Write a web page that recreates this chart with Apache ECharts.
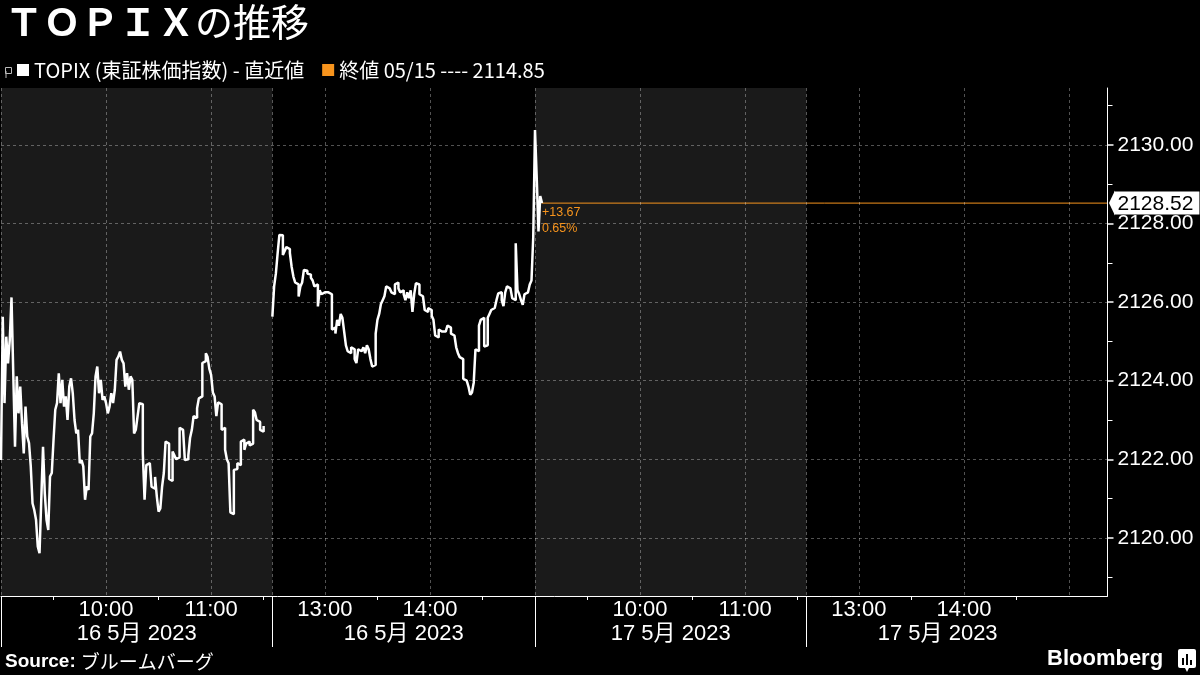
<!DOCTYPE html>
<html><head><meta charset="utf-8">
<script src="https://cdn.jsdelivr.net/npm/echarts@6/dist/echarts.min.js"></script>
<style>html,body{margin:0;padding:0;background:#000}#c{width:1200px;height:675px}</style>
</head><body><div id="c"></div>
<script>
// ---------------- data ----------------
const titleMain = 'ＴＯＰＩＸ';
const titleRest = 'の推移';
const seriesName = 'TOPIX (東証株価指数) - 直近値';
const prevCloseLabel = '終値 05/15';
const prevClose = 2114.85;
const sourceLabel = 'Source:';
const sourceName = 'ブルームバーグ';
const brandName = 'Bloomberg';

const dayLabels = ['16 5月 2023', '17 5月 2023'];
const hourTickTimes = ['10:00', '11:00', '13:00', '14:00'];
const halfHourTimes = ['09:30', '10:30', '11:30', '13:30', '14:30'];
const sessionOpenTimes = ['09:00', '12:30'];
const yMajorTicks = [2120, 2122, 2124, 2126, 2128, 2130];
const yMinorTicks = [2119, 2121, 2123, 2125, 2127, 2129, 2131];

// one value per minute from each session's start
const day1AmStart = '09:00';
const day1AmValues = [
 2121.98,2125.63,2123.43,2125.12,2124.44,2125.04,2126.12,2124.19,2122.32,2124.11,
 2123.17,2123.85,2122.92,2122.15,2123.34,2122.58,2122.41,2121.82,2120.88,2120.71,
 2120.46,2119.78,2119.61,2120.97,2122.32,2121.14,2120.46,2120.20,2121.56,2121.65,
 2122.49,2123.26,2123.43,2124.19,2123.43,2124.02,2123.34,2123.60,2123.00,2123.85,
 2124.06,2123.68,2123.00,2122.66,2122.75,2121.90,2121.98,2121.82,2120.97,2121.31,
 2121.22,2122.58,2122.66,2123.17,2124.11,2124.36,2123.68,2124.02,2123.51,2123.60,
 2123.43,2123.17,2123.34,2123.68,2123.43,2123.77,2124.53,2124.61,2124.74,2124.53,
 2124.44,2123.85,2124.19,2123.77,2124.11,2124.02,2122.66,2122.75,2123.09,2123.43,
 2123.40,2122.15,2120.97,2121.85,2121.90,2121.90,2121.30,2121.25,2121.55,2121.05,
 2120.67,2120.75,2121.30,2121.65,2122.45,2122.40,2121.50,2121.45,2122.20,2122.10,
 2122.00,2122.05,2122.80,2122.75,2122.80,2121.98,2122.00,2122.10,2122.55,2122.75,
 2123.10,2123.05,2123.30,2123.55,2123.60,2124.45,2124.50,2124.70,2124.60,2124.30,
 2124.15,2123.70,2123.60,2123.10,2123.45,2123.40,2122.75,2122.80,2122.24,2122.00,
 2121.90,2120.65,2120.60,2121.73,2121.75,2121.90,2121.85,2122.45,2122.50,2122.24,
 2122.40,2122.45,2122.35,2122.40,2123.26,2123.20,2123.00,2122.95,2122.75,2122.70,
 2122.85];
const day1PmStart = '12:30';
const day1PmValues = [
 2125.63,2126.40,2126.73,2127.24,2127.71,2127.70,2127.20,2127.30,2127.40,2127.35,
 2127.25,2126.90,2126.65,2126.50,2126.45,2126.14,2126.40,2126.50,2126.82,2126.80,
 2126.73,2126.70,2126.62,2126.55,2126.40,2126.45,2125.89,2126.30,2126.20,2126.25,
 2126.30,2126.25,2126.30,2126.20,2125.30,2125.35,2125.20,2125.55,2125.40,2125.70,
 2125.60,2125.25,2124.90,2124.75,2124.70,2124.85,2124.80,2124.55,2124.45,2124.80,
 2124.75,2124.70,2124.85,2124.70,2124.90,2124.80,2124.55,2124.36,2124.40,2125.20,
 2125.55,2125.70,2125.95,2126.05,2126.15,2126.40,2126.35,2126.30,2126.25,2126.20,
 2126.45,2126.50,2126.35,2126.25,2126.30,2126.20,2126.05,2126.25,2126.10,2126.30,
 2125.75,2126.20,2126.48,2126.45,2126.20,2126.15,2126.10,2125.80,2125.75,2125.85,
 2125.80,2125.65,2125.55,2125.15,2125.10,2125.30,2125.25,2125.20,2125.25,2125.30,
 2125.40,2125.35,2125.20,2125.15,2125.20,2124.85,2124.70,2124.60,2124.55,2124.05,
 2124.00,2124.05,2123.85,2123.64,2123.70,2123.95,2124.80,2124.75,2125.40,2125.55,
 2125.60,2124.87,2124.90,2125.60,2125.70,2125.80,2125.85,2125.90,2126.05,2126.22,
 2126.25,2126.05,2125.90,2126.25,2126.40,2126.35,2126.30,2126.10,2126.05,2127.50,
 2126.30,2126.20,2126.05,2125.93,2126.20,2126.25,2126.20,2126.45,2126.55,2127.65,
 2127.65];
const day2AmStart = '09:00';
const day2AmValues = [2130.38, 2129.15, 2127.80, 2128.70, 2128.52];

// ---------------- layout of the compressed trading-time axis ----------------
const AM_SPAN = 155;       // 09:00 - 11:35 display minutes
const DAY_SPAN = 305;      // + 12:30 - 15:00
const X_MAX = 632;
const ORANGE = '#f7941d';
const FONT = "'Liberation Sans', Arial, 'Noto Sans CJK JP', sans-serif";
const CJK = "'Noto Sans CJK JP', sans-serif";

function clockMin(hhmm) { const p = hhmm.split(':').map(Number); return p[0] * 60 + p[1]; }
function toU(day, hhmm) {
  const c = clockMin(hhmm);
  const r = c < 12 * 60 ? c - 540 : AM_SPAN + (c - 750);
  return day * DAY_SPAN + r;
}
function fromU(u) {
  const d = u >= DAY_SPAN ? 1 : 0;
  const r = u - d * DAY_SPAN;
  const c = r < AM_SPAN ? 540 + r : 750 + (r - AM_SPAN);
  const h = Math.floor(c / 60), m = Math.round(c % 60);
  return String(h).padStart(2, '0') + ':' + String(m).padStart(2, '0');
}
function sessionData(day, start, values) {
  const s = toU(day, start);
  return values.map((v, i) => [s + i, v]);
}

const days = [0, 1];
const hourU = [].concat(...days.map(d => hourTickTimes.map(t => toU(d, t))));
const halfU = [].concat(...days.map(d => halfHourTimes.map(t => toU(d, t))));
const sessionU = [].concat(...days.map(d => sessionOpenTimes.map(t => toU(d, t))));
const closeU = toU(1, '12:30') + 150;
const gridU = sessionU.concat(hourU, [closeU]);
const sessionCenters = [].concat(...days.map(d => [
  (toU(d, '09:00') + toU(d, '12:30')) / 2,
  (toU(d, '12:30') + toU(d, '12:30') + 150) / 2]));

const data1 = sessionData(0, day1AmStart, day1AmValues);
const data2 = sessionData(0, day1PmStart, day1PmValues).concat(sessionData(1, day2AmStart, day2AmValues));
const last = data2[data2.length - 1];
const lastU = last[0], lastV = last[1];
const change = lastV - prevClose;
const changeText = (change >= 0 ? '+' : '') + change.toFixed(2);
const pctText = (change / prevClose * 100).toFixed(2) + '%';
const lastLineData = [[lastU, lastV], [X_MAX, lastV]];

const Y_MIN = 2118.52, Y_MAX = 2131.45;

const chart = echarts.init(document.getElementById('c'), null, { renderer: 'canvas' });

const baseY = { type: 'value', min: Y_MIN, max: Y_MAX, position: 'right', offset: 0 };
const baseX = { type: 'value', min: 0, max: X_MAX, position: 'bottom', offset: 0, gridIndex: 0 };

chart.setOption({
  backgroundColor: '#000',
  animation: false,
  title: [
    { text: '{a|' + titleMain + '}{b|' + titleRest + '}', left: 5, top: 3, padding: 0,
      textStyle: { rich: {
        a: { fontSize: 38, fontWeight: 'bold', color: '#fff', fontFamily: CJK },
        b: { fontSize: 38, fontWeight: 'normal', color: '#fff', fontFamily: CJK } } } },
    { text: '{a|' + sourceLabel + '} {b|' + sourceName + '}', left: 5, top: 652, padding: 0,
      textStyle: { rich: {
        a: { fontSize: 19, fontWeight: 'bold', color: '#fff', fontFamily: FONT },
        b: { fontSize: 19, fontWeight: 'normal', color: '#fff', fontFamily: CJK } } } },
    { text: brandName, left: 1047, top: 648, padding: 0,
      textStyle: { fontSize: 22, fontWeight: 'bold', color: '#fff', fontFamily: FONT } }
  ],
  legend: {
    left: 17, top: 60, padding: 0, itemWidth: 12, itemHeight: 12, itemGap: 18,
    icon: 'rect', selectedMode: false,
    textStyle: { color: '#fff', fontSize: 20, fontFamily: CJK },
    data: [seriesName, prevCloseLabel + ' ---- ' + prevClose.toFixed(2)]
  },
  grid: { left: 1, right: 92.5, top: 88, bottom: 79, outerBoundsMode: 'none', containLabel: false },
  xAxis: [
    Object.assign({}, baseX, {
      z: 3,
      axisLine: { show: true, onZero: false, lineStyle: { color: '#fff', width: 1 } },
      axisTick: { show: false, customValues: gridU },
      splitLine: { show: true, lineStyle: { color: 'rgba(255,255,255,0.32)', type: [3, 3], width: 1 } },
      axisLabel: { customValues: hourU, formatter: v => fromU(v), color: '#fff', fontSize: 22,
        fontFamily: FONT, margin: 3 }
    }),
    Object.assign({}, baseX, {
      axisLine: { show: false, onZero: false },
      axisTick: { show: false },
      splitLine: { show: false },
      axisLabel: { customValues: sessionCenters, formatter: v => dayLabels[v >= DAY_SPAN ? 1 : 0],
        color: '#fff', fontSize: 22, fontFamily: FONT, margin: 27 }
    }),
    Object.assign({}, baseX, {
      axisLine: { show: false, onZero: false },
      axisTick: { show: true, customValues: sessionU, length: 51, lineStyle: { color: '#fff', width: 1 } },
      splitLine: { show: false },
      axisLabel: { show: false }
    }),
    Object.assign({}, baseX, {
      axisLine: { show: false, onZero: false },
      axisTick: { show: true, customValues: halfU, length: 4, lineStyle: { color: '#fff', width: 1 } },
      splitLine: { show: false },
      axisLabel: { show: false }
    })
  ],
  yAxis: [
    Object.assign({}, baseY, {
      z: 3,
      axisLine: { show: true, onZero: false, lineStyle: { color: '#fff', width: 1 } },
      axisTick: { show: true, customValues: yMajorTicks, length: 6, lineStyle: { color: '#fff', width: 1.5 } },
      splitLine: { show: true, lineStyle: { color: 'rgba(255,255,255,0.32)', type: [3, 3], width: 1 } },
      axisLabel: { customValues: yMajorTicks, formatter: v => v.toFixed(2), color: '#fff', fontSize: 21,
        fontFamily: FONT, margin: 10 }
    }),
    Object.assign({}, baseY, {
      axisLine: { show: false, onZero: false },
      axisTick: { show: true, customValues: yMinorTicks, length: 5, lineStyle: { color: '#fff', width: 1 } },
      splitLine: { show: false },
      axisLabel: { show: false }
    }),
    Object.assign({}, baseY, {
      z: 4,
      axisLine: { show: false, onZero: false },
      axisTick: { show: false },
      splitLine: { show: false },
      axisLabel: { customValues: [lastV], formatter: v => '{box|' + v.toFixed(2) + '}', margin: 7,
        rich: { box: { backgroundColor: '#fff', color: '#000', fontSize: 21, fontFamily: FONT,
          lineHeight: 23, padding: [2, 6, 0, 3] } } }
    })
  ],
  series: [
    { name: seriesName, type: 'line', step: 'end', symbol: 'none', data: data1,
      xAxisIndex: 0, yAxisIndex: 0,
      lineStyle: { color: '#fff', width: 2.5 }, itemStyle: { color: '#fff' },
      markArea: { silent: true, itemStyle: { color: '#1a1a1a' },
        data: [[{ xAxis: toU(0, '09:00') }, { xAxis: toU(0, '12:30') }],
               [{ xAxis: toU(1, '09:00') }, { xAxis: toU(1, '12:30') }]] } },
    { name: seriesName, type: 'line', step: 'end', symbol: 'none', data: data2,
      xAxisIndex: 0, yAxisIndex: 0,
      lineStyle: { color: '#fff', width: 2.5 }, itemStyle: { color: '#fff' },
      markPoint: { silent: true, symbol: 'circle', symbolSize: 0.1,
        itemStyle: { color: 'rgba(0,0,0,0)' },
        data: [{ coord: [lastU, lastV] }],
        label: { show: true, formatter: changeText + '\n' + pctText, position: [0, 1],
          align: 'left', verticalAlign: 'top', color: ORANGE, fontSize: 12.5, lineHeight: 16,
          fontFamily: FONT } } },
    { name: prevCloseLabel + ' ---- ' + prevClose.toFixed(2), type: 'line', data: lastLineData,
      xAxisIndex: 0, yAxisIndex: 0, symbol: 'none', z: 1, silent: true,
      lineStyle: { color: ORANGE, width: 1 }, itemStyle: { color: ORANGE } }
  ]
});

// pointer of the last-value tag and small decorations
const tagY = chart.convertToPixel({ yAxisIndex: 0 }, lastV);
const axisX = chart.convertToPixel({ xAxisIndex: 0 }, X_MAX);
chart.setOption({
  graphic: [
    { type: 'polygon', z: 100, shape: { points: [[axisX + 1.5, tagY], [axisX + 7.5, tagY - 12.5], [axisX + 7.5, tagY + 12.5]] },
      style: { fill: '#fff' } },
    { type: 'rect', left: 3, top: 65, shape: { width: 6, height: 6 }, style: { stroke: '#bbb', fill: 'none', lineWidth: 1 } },
    { type: 'line', shape: { x1: 6, y1: 71, x2: 6, y2: 78 }, style: { stroke: '#bbb', lineWidth: 1 } },
    { type: 'group', left: 1178, top: 649, children: [
      { type: 'rect', shape: { x: 0, y: 0, width: 18, height: 19, r: 2 }, style: { fill: '#fff' } },
      { type: 'polygon', shape: { points: [[7, 19], [11, 19], [9, 23]] }, style: { fill: '#fff' } },
      { type: 'rect', shape: { x: 4, y: 9, width: 2, height: 7 }, style: { fill: '#000' } },
      { type: 'rect', shape: { x: 8, y: 5, width: 2, height: 11 }, style: { fill: '#000' } },
      { type: 'rect', shape: { x: 12, y: 11, width: 2, height: 5 }, style: { fill: '#000' } }
    ] }
  ]
});
</script>
</body></html>
